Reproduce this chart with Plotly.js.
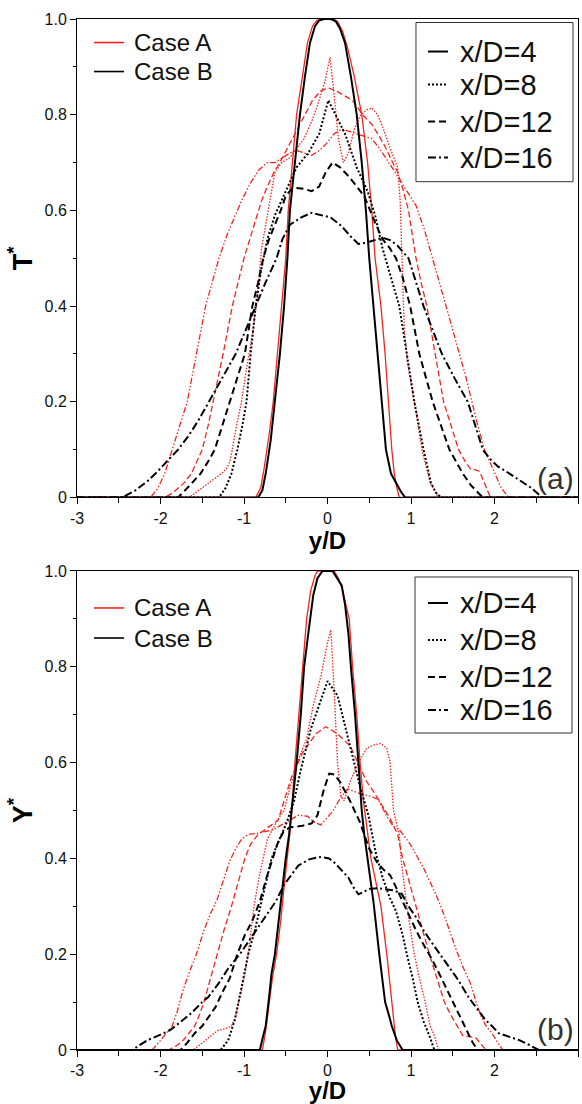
<!DOCTYPE html>
<html>
<head>
<meta charset="utf-8">
<script src="https://cdn.plot.ly/plotly-3.0.1.min.js"></script>
<style>html,body{margin:0;padding:0;background:#fff;}#chart{width:582px;height:1104px;}</style>
</head>
<body>
<div id="chart"></div>
<script>
// ---------- Panel (a): T* ----------
const TA4_x = [-3, -0.86, -0.8, -0.76, -0.7, -0.65, -0.6, -0.55, -0.5, -0.47, -0.42, -0.37, -0.3, -0.24, -0.18, -0.13, -0.07, 0.07, 0.12, 0.18, 0.24, 0.32, 0.41, 0.48, 0.53, 0.57, 0.64, 0.69, 0.73, 0.77, 0.8, 0.83, 0.86, 3];
const TA4_y = [0, 0, 0.02, 0.06, 0.13, 0.2, 0.3, 0.4, 0.5, 0.6, 0.7, 0.8, 0.88, 0.95, 0.985, 0.997, 1.0, 1.0, 0.995, 0.975, 0.94, 0.88, 0.8, 0.7, 0.6, 0.5, 0.4, 0.3, 0.2, 0.1, 0.05, 0.02, 0, 0];
const TB4_x = [-3, -0.83, -0.78, -0.74, -0.68, -0.63, -0.57, -0.52, -0.48, -0.45, -0.39, -0.33, -0.27, -0.21, -0.15, -0.1, -0.04, 0.04, 0.1, 0.15, 0.21, 0.28, 0.35, 0.41, 0.46, 0.5, 0.55, 0.6, 0.65, 0.7, 0.76, 0.82, 0.88, 0.93, 3];
const TB4_y = [0, 0, 0.015, 0.05, 0.12, 0.2, 0.3, 0.4, 0.5, 0.6, 0.7, 0.8, 0.88, 0.95, 0.985, 0.997, 1, 1, 0.995, 0.98, 0.95, 0.88, 0.8, 0.7, 0.6, 0.5, 0.4, 0.3, 0.2, 0.1, 0.05, 0.03, 0.012, 0, 0];
const TA8_x = [-3, -1.66, -1.58, -1.5, -1.42, -1.35, -1.27, -1.21, -1.17, -1.14, -1.09, -1.03, -0.97, -0.9, -0.84, -0.79, -0.74, -0.7, -0.63, -0.55, -0.45, -0.37, -0.28, -0.18, -0.1, -0.03, 0.03, 0.08, 0.13, 0.19, 0.25, 0.32, 0.4, 0.47, 0.53, 0.6, 0.67, 0.75, 0.84, 0.87, 0.89, 0.92, 0.96, 1.04, 1.13, 1.23, 1.33, 3];
const TA8_y = [0, 0, 0.01, 0.02, 0.03, 0.04, 0.05, 0.06, 0.075, 0.1, 0.15, 0.2, 0.27, 0.34, 0.42, 0.52, 0.57, 0.61, 0.68, 0.70, 0.71, 0.73, 0.75, 0.79, 0.83, 0.87, 0.92, 0.84, 0.75, 0.70, 0.72, 0.77, 0.8, 0.81, 0.814, 0.8, 0.77, 0.73, 0.69, 0.62, 0.5, 0.35, 0.28, 0.2, 0.1, 0.03, 0, 0];
const TB8_x = [-3, -1.3, -1.22, -1.15, -1.08, -1.02, -0.97, -0.92, -0.86, -0.8, -0.72, -0.63, -0.5, -0.37, -0.23, -0.1, 0.01, 0.1, 0.21, 0.35, 0.48, 0.57, 0.66, 0.76, 0.86, 0.95, 1.04, 1.15, 1.24, 1.3, 1.36, 3];
const TB8_y = [0, 0, 0.02, 0.05, 0.1, 0.15, 0.2, 0.3, 0.4, 0.47, 0.54, 0.59, 0.64, 0.69, 0.72, 0.76, 0.83, 0.8, 0.76, 0.69, 0.64, 0.59, 0.52, 0.46, 0.4, 0.3, 0.2, 0.1, 0.03, 0.01, 0, 0];
const TA12_x = [-3, -1.95, -1.85, -1.72, -1.63, -1.56, -1.5, -1.43, -1.37, -1.25, -1.14, -1.07, -1.0, -0.93, -0.86, -0.79, -0.72, -0.64, -0.57, -0.45, -0.36, -0.28, -0.18, -0.08, 0.01, 0.1, 0.2, 0.3, 0.42, 0.53, 0.62, 0.7, 0.78, 0.84, 0.91, 0.97, 1.06, 1.12, 1.19, 1.29, 1.39, 1.48, 1.57, 1.65, 1.71, 1.76, 1.82, 1.88, 1.95, 3];
const TA12_y = [0, 0, 0.01, 0.03, 0.05, 0.075, 0.1, 0.15, 0.2, 0.3, 0.4, 0.45, 0.5, 0.54, 0.58, 0.62, 0.65, 0.68, 0.70, 0.74, 0.77, 0.8, 0.83, 0.85, 0.856, 0.85, 0.84, 0.83, 0.8, 0.78, 0.755, 0.73, 0.7, 0.68, 0.64, 0.6, 0.5, 0.45, 0.4, 0.3, 0.2, 0.15, 0.1, 0.075, 0.06, 0.058, 0.055, 0.03, 0, 0];
const TB12_x = [-3, -1.79, -1.65, -1.52, -1.43, -1.35, -1.26, -1.17, -1.08, -0.99, -0.9, -0.83, -0.77, -0.7, -0.63, -0.56, -0.5, -0.43, -0.37, -0.28, -0.19, -0.1, -0.02, 0.06, 0.15, 0.26, 0.35, 0.44, 0.51, 0.58, 0.66, 0.75, 0.82, 0.9, 0.99, 1.1, 1.18, 1.26, 1.36, 1.46, 1.54, 1.62, 1.72, 1.86, 3];
const TB12_y = [0, 0, 0.025, 0.05, 0.075, 0.1, 0.15, 0.2, 0.25, 0.3, 0.4, 0.45, 0.5, 0.54, 0.57, 0.6, 0.63, 0.645, 0.647, 0.645, 0.64, 0.65, 0.68, 0.70, 0.69, 0.67, 0.65, 0.63, 0.6, 0.57, 0.54, 0.52, 0.5, 0.46, 0.4, 0.3, 0.25, 0.2, 0.15, 0.1, 0.075, 0.05, 0.025, 0, 0];
const TA16_x = [-3, -2.12, -2.03, -1.95, -1.86, -1.77, -1.68, -1.57, -1.46, -1.38, -1.3, -1.2, -1.1, -1.03, -0.93, -0.82, -0.72, -0.63, -0.54, -0.45, -0.37, -0.28, -0.19, -0.1, -0.01, 0.08, 0.17, 0.26, 0.35, 0.44, 0.53, 0.62, 0.7, 0.79, 0.88, 0.97, 1.06, 1.16, 1.26, 1.34, 1.42, 1.5, 1.58, 1.66, 1.73, 1.8, 1.88, 1.94, 2.0, 2.08, 2.17, 3];
const TA16_y = [0, 0, 0.02, 0.05, 0.1, 0.15, 0.2, 0.3, 0.4, 0.45, 0.5, 0.55, 0.59, 0.62, 0.655, 0.685, 0.70, 0.70, 0.71, 0.72, 0.725, 0.72, 0.715, 0.725, 0.74, 0.76, 0.77, 0.765, 0.76, 0.755, 0.75, 0.73, 0.71, 0.685, 0.66, 0.635, 0.61, 0.56, 0.5, 0.45, 0.4, 0.35, 0.3, 0.25, 0.2, 0.15, 0.1, 0.075, 0.05, 0.02, 0, 0];
const TB16_x = [-3, -2.46, -2.3, -2.15, -2.06, -1.92, -1.79, -1.66, -1.55, -1.42, -1.26, -1.1, -0.98, -0.86, -0.74, -0.61, -0.54, -0.45, -0.32, -0.19, -0.08, 0.04, 0.17, 0.28, 0.37, 0.45, 0.53, 0.66, 0.75, 0.84, 0.97, 1.06, 1.15, 1.26, 1.37, 1.52, 1.68, 1.77, 1.86, 1.95, 2.04, 2.18, 2.31, 2.44, 2.57, 3];
const TB16_y = [0, 0, 0.015, 0.035, 0.05, 0.075, 0.1, 0.13, 0.16, 0.2, 0.25, 0.3, 0.35, 0.4, 0.45, 0.5, 0.54, 0.57, 0.585, 0.595, 0.59, 0.585, 0.567, 0.545, 0.53, 0.532, 0.536, 0.543, 0.538, 0.526, 0.5, 0.45, 0.4, 0.35, 0.3, 0.25, 0.2, 0.15, 0.1, 0.08, 0.065, 0.05, 0.035, 0.02, 0, 0];

// ---------- Panel (b): Y* ----------
const YA4_x = [-3, -0.78, -0.74, -0.7, -0.66, -0.61, -0.56, -0.52, -0.48, -0.44, -0.39, -0.34, -0.3, -0.25, -0.2, -0.15, -0.12, 0.08, 0.13, 0.18, 0.22, 0.26, 0.3, 0.35, 0.39, 0.43, 0.46, 0.52, 0.58, 0.64, 0.71, 0.77, 0.81, 0.84, 3];
const YA4_y = [0, 0, 0.04, 0.1, 0.15, 0.2, 0.27, 0.34, 0.4, 0.47, 0.6, 0.71, 0.8, 0.9, 0.96, 0.99, 1.0, 1.0, 0.985, 0.96, 0.93, 0.9, 0.8, 0.7, 0.6, 0.52, 0.48, 0.4, 0.35, 0.3, 0.2, 0.1, 0.035, 0, 0];
const YB4_x = [-3, -0.81, -0.77, -0.74, -0.7, -0.67, -0.63, -0.58, -0.54, -0.5, -0.46, -0.43, -0.37, -0.32, -0.28, -0.23, -0.2, -0.17, -0.12, -0.06, 0.06, 0.12, 0.17, 0.21, 0.25, 0.28, 0.33, 0.37, 0.41, 0.44, 0.48, 0.55, 0.62, 0.69, 0.74, 0.77, 0.83, 0.9, 3];
const YB4_y = [0, 0, 0.03, 0.05, 0.11, 0.16, 0.2, 0.28, 0.35, 0.4, 0.45, 0.5, 0.6, 0.7, 0.8, 0.87, 0.91, 0.95, 0.985, 1.0, 1.0, 0.985, 0.97, 0.93, 0.87, 0.8, 0.7, 0.6, 0.5, 0.45, 0.4, 0.31, 0.2, 0.1, 0.07, 0.05, 0.02, 0, 0];
const YA8_x = [-3, -1.61, -1.52, -1.46, -1.4, -1.32, -1.22, -1.15, -1.1, -1.06, -1.0, -0.95, -0.88, -0.82, -0.77, -0.72, -0.66, -0.6, -0.52, -0.43, -0.34, -0.25, -0.17, -0.08, 0.0, 0.04, 0.08, 0.12, 0.16, 0.2, 0.27, 0.37, 0.47, 0.56, 0.64, 0.71, 0.75, 0.79, 0.83, 0.86, 0.88, 0.95, 1.04, 1.1, 1.17, 1.23, 1.28, 1.33, 3];
const YA8_y = [0, 0, 0.012, 0.02, 0.028, 0.04, 0.045, 0.05, 0.07, 0.1, 0.15, 0.2, 0.3, 0.36, 0.4, 0.44, 0.46, 0.48, 0.5, 0.56, 0.61, 0.65, 0.72, 0.78, 0.85, 0.877, 0.75, 0.6, 0.53, 0.52, 0.56, 0.6, 0.63, 0.637, 0.64, 0.63, 0.6, 0.5, 0.47, 0.45, 0.4, 0.3, 0.2, 0.15, 0.1, 0.05, 0.03, 0, 0];
const YB8_x = [-3, -1.28, -1.19, -1.11, -1.03, -0.95, -0.87, -0.79, -0.73, -0.67, -0.6, -0.5, -0.4, -0.32, -0.2, -0.08, 0.0, 0.12, 0.24, 0.32, 0.39, 0.49, 0.58, 0.66, 0.74, 0.82, 0.9, 0.95, 1.02, 1.08, 1.15, 1.22, 1.28, 3];
const YB8_y = [0, 0, 0.02, 0.063, 0.13, 0.2, 0.25, 0.31, 0.36, 0.4, 0.43, 0.47, 0.52, 0.585, 0.67, 0.73, 0.77, 0.74, 0.655, 0.6, 0.55, 0.49, 0.41, 0.36, 0.32, 0.29, 0.24, 0.2, 0.15, 0.1, 0.06, 0.03, 0, 0];
const YA12_x = [-3, -1.9, -1.8, -1.73, -1.66, -1.59, -1.53, -1.48, -1.4, -1.32, -1.24, -1.15, -1.07, -0.99, -0.92, -0.83, -0.75, -0.67, -0.59, -0.52, -0.43, -0.3, -0.14, -0.02, 0.12, 0.27, 0.39, 0.47, 0.55, 0.62, 0.68, 0.76, 0.84, 0.9, 0.98, 1.06, 1.14, 1.22, 1.31, 1.4, 1.47, 1.55, 1.62, 1.7, 1.78, 1.84, 1.9, 3];
const YA12_y = [0, 0, 0.01, 0.02, 0.035, 0.05, 0.075, 0.1, 0.15, 0.2, 0.25, 0.3, 0.35, 0.4, 0.43, 0.45, 0.46, 0.47, 0.48, 0.52, 0.57, 0.62, 0.66, 0.675, 0.66, 0.635, 0.59, 0.56, 0.54, 0.52, 0.5, 0.48, 0.45, 0.4, 0.35, 0.3, 0.25, 0.2, 0.15, 0.1, 0.075, 0.05, 0.03, 0.028, 0.025, 0.012, 0, 0];
const YB12_x = [-3, -1.76, -1.68, -1.59, -1.5, -1.42, -1.34, -1.26, -1.17, -1.08, -0.99, -0.9, -0.81, -0.73, -0.66, -0.6, -0.53, -0.45, -0.39, -0.3, -0.19, -0.12, -0.05, 0.02, 0.08, 0.15, 0.27, 0.39, 0.5, 0.6, 0.68, 0.75, 0.82, 0.9, 0.98, 1.06, 1.15, 1.25, 1.35, 1.45, 1.53, 1.61, 1.67, 1.74, 1.8, 3];
const YB12_y = [0, 0, 0.015, 0.035, 0.05, 0.07, 0.09, 0.12, 0.15, 0.2, 0.24, 0.27, 0.31, 0.36, 0.4, 0.43, 0.455, 0.465, 0.466, 0.468, 0.473, 0.49, 0.54, 0.577, 0.575, 0.56, 0.52, 0.475, 0.42, 0.39, 0.375, 0.365, 0.34, 0.31, 0.28, 0.25, 0.22, 0.19, 0.155, 0.12, 0.09, 0.063, 0.04, 0.015, 0, 0];
const YA16_x = [-3, -2.1, -2.0, -1.93, -1.86, -1.8, -1.73, -1.65, -1.57, -1.48, -1.4, -1.32, -1.24, -1.17, -1.1, -1.03, -0.95, -0.85, -0.75, -0.65, -0.55, -0.45, -0.35, -0.24, -0.15, -0.08, 0.0, 0.07, 0.15, 0.24, 0.36, 0.51, 0.61, 0.71, 0.79, 0.86, 0.99, 1.07, 1.15, 1.23, 1.31, 1.39, 1.47, 1.55, 1.63, 1.71, 1.78, 1.84, 1.9, 1.97, 2.04, 2.1, 3];
const YA16_y = [0, 0, 0.02, 0.035, 0.05, 0.08, 0.125, 0.165, 0.2, 0.25, 0.285, 0.315, 0.36, 0.395, 0.42, 0.44, 0.45, 0.452, 0.456, 0.46, 0.47, 0.48, 0.49, 0.488, 0.475, 0.47, 0.485, 0.50, 0.525, 0.545, 0.537, 0.53, 0.523, 0.488, 0.466, 0.46, 0.43, 0.405, 0.38, 0.35, 0.32, 0.285, 0.245, 0.205, 0.17, 0.14, 0.1, 0.07, 0.05, 0.035, 0.015, 0, 0];
const YB16_x = [-3, -2.34, -2.25, -2.15, -2.0, -1.88, -1.75, -1.63, -1.5, -1.43, -1.3, -1.19, -1.05, -0.95, -0.87, -0.79, -0.71, -0.62, -0.52, -0.44, -0.35, -0.22, -0.09, 0.02, 0.09, 0.17, 0.25, 0.31, 0.37, 0.43, 0.5, 0.6, 0.7, 0.8, 0.89, 0.97, 1.05, 1.15, 1.25, 1.35, 1.45, 1.57, 1.69, 1.8, 1.89, 1.97, 2.05, 2.17, 2.29, 2.4, 2.53, 3];
const YB16_y = [0, 0, 0.01, 0.021, 0.032, 0.042, 0.06, 0.077, 0.1, 0.11, 0.14, 0.17, 0.2, 0.225, 0.245, 0.265, 0.287, 0.31, 0.345, 0.365, 0.385, 0.398, 0.403, 0.4, 0.39, 0.375, 0.36, 0.34, 0.325, 0.33, 0.336, 0.338, 0.336, 0.333, 0.326, 0.3, 0.28, 0.25, 0.224, 0.2, 0.175, 0.145, 0.11, 0.085, 0.063, 0.05, 0.035, 0.028, 0.021, 0.012, 0, 0];

// ---------- Labels ----------
const caseLabels = ['Case A', 'Case B'];
const posLabels = ['x/D=4', 'x/D=8', 'x/D=12', 'x/D=16'];
const panelLabels = ['(a)', '(b)'];
const xTickVals = [-3, -2, -1, 0, 1, 2, 3];
const xTickText = ['-3', '-2', '-1', '0', '1', '2', '3'];
const yTickVals = [0, 0.2, 0.4, 0.6, 0.8, 1.0];
const yTickText = ['0', '0.2', '0.4', '0.6', '0.8', '1.0'];

// ---------- Styles ----------
const RED = '#f0261e';
const BLK = '#000000';
const dashRed = ['solid', '1.5px,1.5px', '6px,3px', '6px,2px,1.5px,2px,1.5px,2px'];
const dashBlk = ['solid', '2px,2px', '7px,4px', '8px,3px,2px,3px'];
const FONT = 'Liberation Sans, Arial, Helvetica, sans-serif';

const panels = [
  {xa: 'x', ya: 'y', A: [[TA4_x,TA4_y],[TA8_x,TA8_y],[TA12_x,TA12_y],[TA16_x,TA16_y]],
   B: [[TB4_x,TB4_y],[TB8_x,TB8_y],[TB12_x,TB12_y],[TB16_x,TB16_y]],
   caseRows: [0.9508, 0.8902], box: [0.6766, 0.990, 0.6600, 0.9927], posRows: [0.9320, 0.8630, 0.7856, 0.7103], tag: [0.956, 0.039]},
  {xa: 'x2', ya: 'y2', A: [[YA4_x,YA4_y],[YA8_x,YA8_y],[YA12_x,YA12_y],[YA16_x,YA16_y]],
   B: [[YB4_x,YB4_y],[YB8_x,YB8_y],[YB12_x,YB12_y],[YB16_x,YB16_y]],
   caseRows: [0.9228, 0.8601], box: [0.6747, 0.988, 0.6618, 0.9875], posRows: [0.9332, 0.8559, 0.7787, 0.7098], tag: [0.956, 0.042]}
];

const traces = [];
const shapes = [];
const annotations = [];
panels.forEach((p, k) => {
  p.A.forEach((d, i) => traces.push({x: d[0], y: d[1], xaxis: p.xa, yaxis: p.ya, mode: 'lines', showlegend: false,
    line: {color: RED, width: 1.3, dash: dashRed[i]}, hoverinfo: 'skip'}));
  p.B.forEach((d, i) => traces.push({x: d[0], y: d[1], xaxis: p.xa, yaxis: p.ya, mode: 'lines', showlegend: false,
    line: {color: BLK, width: 2.0, dash: dashBlk[i]}, hoverinfo: 'skip'}));
  const xr = p.xa + ' domain', yr = p.ya + ' domain';
  // Case legend (no frame)
  caseLabels.forEach((c, i) => {
    shapes.push({type: 'line', xref: xr, yref: yr, x0: 0.034, x1: 0.094, y0: p.caseRows[i], y1: p.caseRows[i],
      line: {color: i === 0 ? RED : BLK, width: 1.6}});
    annotations.push({text: c, xref: xr, yref: yr, x: 0.110, y: p.caseRows[i], xanchor: 'left', yanchor: 'middle',
      showarrow: false, font: {family: FONT, size: 24, color: '#111'}});
  });
  // x/D legend (framed)
  shapes.push({type: 'rect', xref: xr, yref: yr, x0: p.box[0], x1: p.box[1], y0: p.box[2], y1: p.box[3],
    line: {color: '#333', width: 1}, fillcolor: '#fff', layer: 'above'});
  posLabels.forEach((c, i) => {
    shapes.push({type: 'line', xref: xr, yref: yr, x0: 0.7006, x1: 0.7405, y0: p.posRows[i], y1: p.posRows[i],
      line: {color: BLK, width: 2, dash: dashBlk[i]}});
    annotations.push({text: c, xref: xr, yref: yr, x: 0.760, y: p.posRows[i], xanchor: 'left', yanchor: 'middle',
      showarrow: false, font: {family: FONT, size: 29, color: '#111'}});
  });
  annotations.push({text: panelLabels[k], xref: xr, yref: yr, x: p.tag[0], y: p.tag[1], xanchor: 'center', yanchor: 'middle',
    showarrow: false, font: {family: FONT, size: 30, color: '#333'}});
});

const xax = (anchor) => ({
  anchor: anchor, range: [-3, 3], tickvals: xTickVals, ticktext: xTickText,
  ticks: 'outside', ticklen: 6, tickwidth: 1, tickcolor: '#000',
  minor: {tickvals: [-2.5, -1.5, -0.5, 0.5, 1.5, 2.5], ticks: 'outside', ticklen: 5, tickcolor: '#000'},
  showline: true, linecolor: '#000', linewidth: 1, mirror: true, showgrid: false, zeroline: false,
  tickfont: {family: FONT, size: 16, color: '#111'},
  title: {text: '<b>y/D</b>', font: {family: FONT, size: 24, color: '#000'}, standoff: 4}
});
const yax = (anchor, dom, t) => ({
  anchor: anchor, domain: dom, range: [0, 1], tickvals: yTickVals, ticktext: yTickText,
  ticks: 'outside', ticklen: 6, tickwidth: 1, tickcolor: '#000',
  minor: {tickvals: [0.1, 0.3, 0.5, 0.7, 0.9], ticks: 'outside', ticklen: 3, tickcolor: '#000'},
  showline: true, linecolor: '#000', linewidth: 1, mirror: true, showgrid: false, zeroline: false,
  tickfont: {family: FONT, size: 16, color: '#111'},
  title: {text: t, font: {family: FONT, size: 27, color: '#000'}, standoff: 4}
});

const layout = {
  width: 582, height: 1104,
  margin: {l: 77, r: 4, t: 19, b: 54},
  paper_bgcolor: '#fff', plot_bgcolor: '#fff',
  showlegend: false,
  xaxis: xax('y'),
  yaxis: yax('x', [0.5359, 1], '<b>T<sup>*</sup></b>'),
  xaxis2: xax('y2'),
  yaxis2: yax('x2', [0, 0.4646], '<b>Y<sup>*</sup></b>'),
  shapes: shapes,
  annotations: annotations
};

Plotly.newPlot('chart', traces, layout, {displayModeBar: false, staticPlot: true});
</script>
</body>
</html>
